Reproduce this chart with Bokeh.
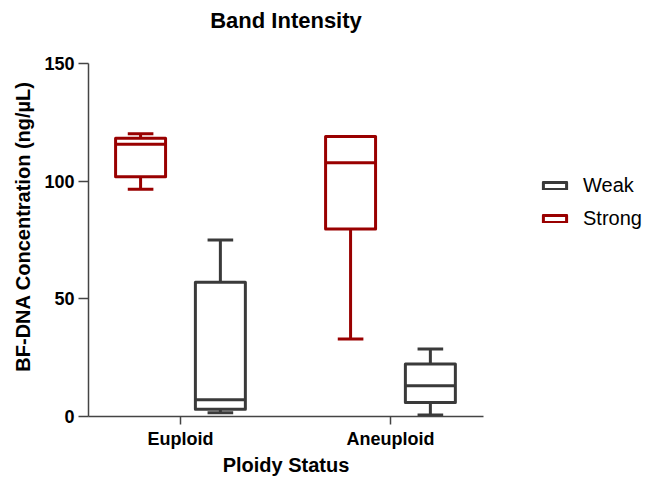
from bokeh.plotting import figure
from bokeh.models import Legend, LegendItem, FixedTicker, Range1d
from bokeh.layouts import row
from bokeh.embed import file_html
from bokeh.resources import INLINE

categories = ["Euploid", "Aneuploid"]
cat_pos = [1, 2]

weak_min = [1.6, 0.6]
weak_q1 = [3.1, 6.0]
weak_med = [7.1, 13.1]
weak_q3 = [57.1, 22.3]
weak_max = [75.1, 28.7]

strong_min = [96.7, 33.0]
strong_q1 = [102.0, 79.8]
strong_med = [115.8, 108.0]
strong_q3 = [118.4, 119.1]
strong_max = [120.3, 119.1]

y_ticks = [0, 50, 100, 150]
series_names = ["Weak", "Strong"]

WEAK = "#3a3a3a"
STRONG = "#990000"
FONT = "Liberation Sans"

# frame extends a little above the 150 tick so the title can sit higher;
# the y axis line itself is bounded to 0..150
p = figure(width=500, height=479, output_backend="svg", toolbar_location=None,
           x_range=Range1d(0.562, 2.443), y_range=Range1d(0, 161.7),
           min_border_left=88, min_border_right=17, min_border_top=36, min_border_bottom=63)
p.outline_line_color = None
p.xgrid.visible = False
p.ygrid.visible = False
p.background_fill_color = "white"

box_w = 0.238
cap_w = 0.122
off = 0.19


def draw(offset, mn, q1, med, q3, mx, color):
    xs = [c + offset for c in cat_pos]
    left = [x - box_w / 2 for x in xs]
    right = [x + box_w / 2 for x in xs]
    cl = [x - cap_w / 2 for x in xs]
    cr = [x + cap_w / 2 for x in xs]
    kw = dict(line_color=color, line_width=3)
    p.segment(xs, q3, xs, mx, **kw)
    p.segment(xs, q1, xs, mn, **kw)
    p.segment(cl, mx, cr, mx, **kw)
    p.segment(cl, mn, cr, mn, **kw)
    p.quad(left=left, right=right, bottom=q1, top=q3, fill_color="white",
           line_join="round", **kw)
    p.segment(left, med, right, med, **kw)


draw(-off, strong_min, strong_q1, strong_med, strong_q3, strong_max, STRONG)
draw(off, weak_min, weak_q1, weak_med, weak_q3, weak_max, WEAK)

# axes
for ax in (p.xaxis[0], p.yaxis[0]):
    ax.axis_line_color = "#444444"
    ax.axis_line_width = 1.5
    ax.major_tick_line_color = "#444444"
    ax.major_tick_line_width = 1.5
    ax.major_tick_in = 0
    ax.minor_tick_line_color = None
    ax.major_label_text_font = FONT
    ax.major_label_text_font_style = "bold"
    ax.major_label_text_font_size = "18px"
    ax.major_label_text_color = "black"
    ax.axis_label_text_font = FONT
    ax.axis_label_text_font_style = "bold"
    ax.axis_label_text_font_size = "20px"
    ax.axis_label_text_color = "black"

p.xaxis.ticker = FixedTicker(ticks=cat_pos)
p.xaxis.major_label_overrides = {c: n for c, n in zip(cat_pos, categories)}
p.xaxis.axis_label = "Ploidy Status"
p.xaxis.major_tick_out = 8
p.xaxis.major_label_standoff = 4
p.xaxis.axis_label_standoff = 2

p.yaxis.ticker = FixedTicker(ticks=y_ticks)
p.yaxis.bounds = (y_ticks[0], y_ticks[-1])
p.yaxis.axis_label = "BF-DNA Concentration (ng/µL)"
p.yaxis.major_tick_out = 10
p.yaxis.major_label_standoff = 4
p.yaxis.axis_label_standoff = 7

p.title.text = "Band Intensity"
p.title.text_font = FONT
p.title.text_font_style = "bold"
p.title.text_font_size = "22px"
p.title.text_color = "black"
p.title.align = "center"
p.title.standoff = 8

# legend panel
lg = figure(width=146, height=479, output_backend="svg", toolbar_location=None,
            x_range=Range1d(0, 1), y_range=Range1d(0, 1),
            x_axis_type=None, y_axis_type=None,
            min_border_left=0, min_border_right=0, min_border_top=0, min_border_bottom=0)
lg.outline_line_color = None
lg.xgrid.visible = False
lg.ygrid.visible = False
items = []
for name, color in zip(series_names, [WEAK, STRONG]):
    r = lg.quad(left=[5], right=[6], bottom=[5], top=[6], fill_color="white",
                line_color=color, line_width=3, line_join="round")
    items.append(LegendItem(label=name, renderers=[r]))

legend = Legend(items=items, location=(40, 186), orientation="vertical")
legend.label_text_font = FONT
legend.label_text_font_size = "20px"
legend.label_text_color = "black"
legend.glyph_width = 29
legend.glyph_height = 9
legend.label_height = 20
legend.label_standoff = 14
legend.spacing = 10
legend.padding = 0
legend.margin = 0
legend.border_line_color = None
legend.background_fill_alpha = 0
lg.add_layout(legend, "center")

layout = row(p, lg, spacing=0)
open("out.html", "w").write(file_html(layout, INLINE))
